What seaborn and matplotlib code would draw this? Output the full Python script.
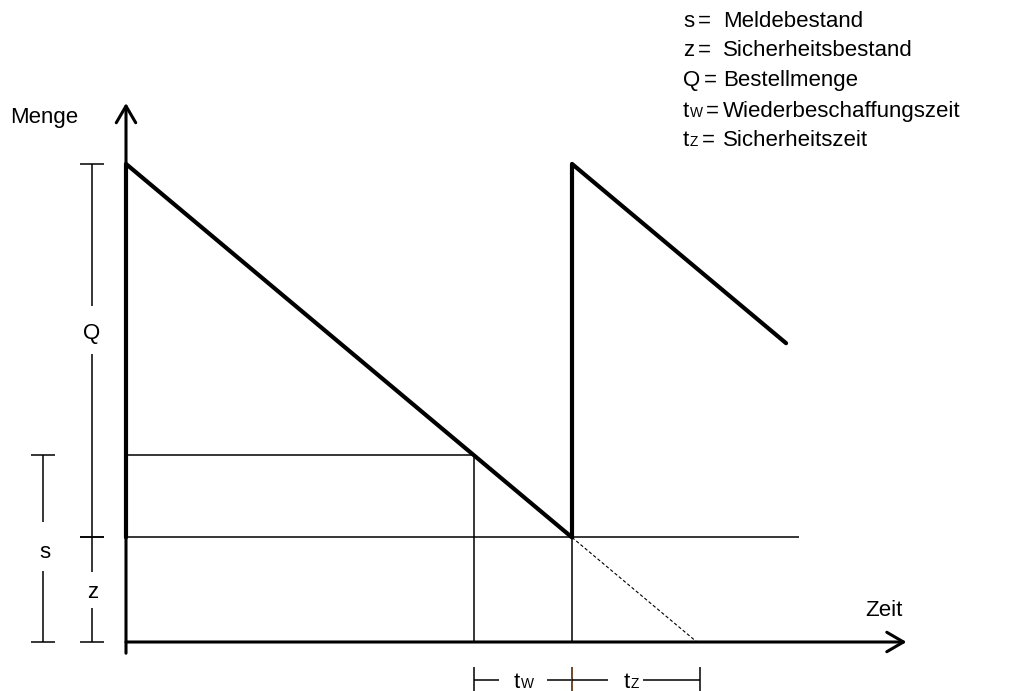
import matplotlib
matplotlib.use("Agg")
import matplotlib.pyplot as plt
from matplotlib.transforms import Affine2D
import seaborn as sns

# Lagerbestandsverlauf beim Bestellpunktverfahren
bestellmenge = 100        # Q
sicherheitsbestand = 28   # z
meldebestand = 50         # s

# Saegezahn: Zeit / Bestand
zeit = [0, 0, 10, 10, 14.8]
bestand = [28, 128, 28, 128, 80]

t_melde = 7.8       # Bestand erreicht s -> Bestellung
t_ankunft = 10      # Lieferung trifft ein
t_leer = 12.8       # Bestand waere ohne Lieferung bei 0
t_ende = 15.1       # Ende der z-Linie

legende_keys = ["s", "z", "Q", "t", "t"]
legende_index = ["", "", "", "W", "Z"]
legende_text = ["Meldebestand", "Sicherheitsbestand", "Bestellmenge",
                "Wiederbeschaffungszeit", "Sicherheitszeit"]

sns.set_style("white")
plt.rcParams["font.family"] = ["Liberation Sans", "DejaVu Sans"]
plt.rcParams["text.color"] = "black"

W, H = 1014, 691
FS = 16
fig = plt.figure(figsize=(W / 100, H / 100), dpi=100)
ax = fig.add_axes([0, 0, 1, 1])

# Ursprung und Massstab in Pixeln
ox, oy = 126, 642
px_t, px_m = 44.6, 3.735
ax.set_xlim(-ox / px_t, (W - ox) / px_t)
ax.set_ylim(-(H - oy) / px_m, oy / px_m)
ax.axis("off")

# Pixelkoordinaten (oben links = 0,0) fuer Texte
pix = Affine2D().scale(1 / W, -1 / H).translate(0, 1) + fig.transFigure

thin = 1.1
sns.lineplot(x=zeit, y=bestand, sort=False, estimator=None, color="black",
             linewidth=3.0, ax=ax, legend=False)

ax.hlines(sicherheitsbestand, 0, t_ende, color="black", lw=thin)
ax.hlines(meldebestand, 0, t_melde, color="black", lw=thin)
ax.vlines(t_melde, 0, meldebestand, color="black", lw=thin)
ax.vlines(t_ankunft, 0, sicherheitsbestand, color="black", lw=thin)
ax.plot([t_ankunft, t_leer], [sicherheitsbestand, 0], color="black",
        lw=0.8, ls=(0, (3, 2)))

# Achsen mit Pfeilen
pfeil = dict(arrowstyle="->,head_length=0.6,head_width=0.35", lw=2.2,
             color="black", shrinkA=0, shrinkB=0, mutation_scale=20)
ax.annotate("", xy=(17.5, 0), xytext=(0, 0), arrowprops=pfeil)
ax.annotate("", xy=(0, 144.3), xytext=(0, -3), arrowprops=pfeil)


def vklammer(x, y0, y1, gap):
    cap = 0.27
    ax.hlines([y0, y1], x - cap, x + cap, color="black", lw=thin)
    ax.vlines(x, y0, gap[0], color="black", lw=thin)
    ax.vlines(x, gap[1], y1, color="black", lw=thin)


def hklammer(y, x0, x1, gap, farben=("black", "black")):
    ax.vlines([x0], y - 3.5, y + 3.5, color=farben[0], lw=thin)
    ax.vlines([x1], y - 3.5, y + 3.5, color=farben[1], lw=thin)
    ax.hlines(y, x0, gap[0], color="black", lw=thin)
    ax.hlines(y, gap[1], x1, color="black", lw=thin)


vklammer(-0.76, sicherheitsbestand, sicherheitsbestand + bestellmenge, (77, 90))
vklammer(-1.86, 0, meldebestand, (19, 32))
vklammer(-0.76, 0, sicherheitsbestand, (9, 18.7))
hklammer(-10.2, t_melde, t_ankunft, (8.36, 9.44), farben=("black", "#6b4226"))
hklammer(-10.2, t_ankunft, t_leer + 0.07, (10.8, 11.6), farben=("#6b4226", "black"))


def t_label(x, y, key, sub):
    # Buchstabe mit kleinem, nicht tiefgestelltem Index (z.B. tW)
    t = ax.text(x, y, key, transform=pix, fontsize=FS, va="baseline", ha="left")
    if not sub:
        return t, t
    s_ = ax.annotate(sub, xy=(1, 0), xycoords=t, fontsize=FS * 0.62,
                     va="bottom", ha="left", xytext=(0.3, 1.3),
                     textcoords="offset points")
    return t, s_


# Legende oben rechts
baselines = [27, 56, 86, 117, 146]
for key, sub, txt, yb in zip(legende_keys, legende_index, legende_text, baselines):
    t, last = t_label(683, yb, key, sub)
    ax.annotate("=", xy=(1, 0), xycoords=(last, t), fontsize=FS, va="bottom",
                ha="left", xytext=(2.5, 0), textcoords="offset points")
    ax.text(723, yb, txt, transform=pix, fontsize=FS, va="baseline", ha="left")

# Achsenbeschriftungen
ax.text(10, 123, "Menge", transform=pix, fontsize=FS, va="baseline", ha="left")
ax.text(865, 616, "Zeit", transform=pix, fontsize=FS, va="baseline", ha="left")

# Klammerbeschriftungen
ax.text(92, 339, "Q", transform=pix, fontsize=FS, va="baseline", ha="center")
ax.text(45, 558, "s", transform=pix, fontsize=FS, va="baseline", ha="center")
ax.text(93, 598, "z", transform=pix, fontsize=FS, va="baseline", ha="center")
t_label(514, 688, "t", "W")
t_label(624, 688, "t", "Z")

fig.savefig("out.png", dpi=100)
plt.close(fig)
